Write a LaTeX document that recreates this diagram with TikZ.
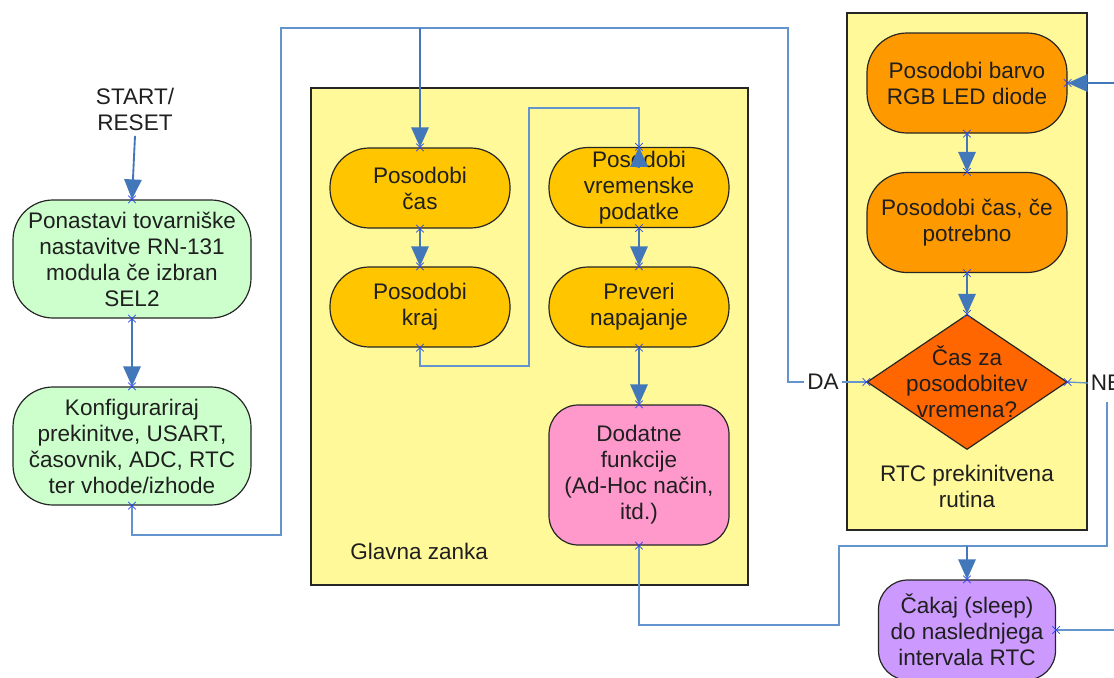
\documentclass[tikz,border=0pt]{standalone}
\usepackage{fontspec}
\setmainfont{Liberation Sans}
\usetikzlibrary{arrows.meta,shapes.geometric,shapes.misc}
\definecolor{lineblue}{RGB}{66,120,185}
\definecolor{lineblue2}{RGB}{100,148,205}
\definecolor{panelyellow}{RGB}{255,249,153}
\definecolor{greenfill}{RGB}{204,255,204}
\definecolor{orangeA}{RGB}{255,198,0}
\definecolor{orangeB}{RGB}{255,153,0}
\definecolor{diafill}{RGB}{255,102,0}
\definecolor{pinkfill}{RGB}{255,153,204}
\definecolor{purplefill}{RGB}{204,153,255}
\definecolor{xblue}{RGB}{40,70,240}
\begin{document}
\begin{tikzpicture}[x=0.75pt,y=-0.75pt,
  every node/.style={font=\fontsize{16.9}{19.5}\selectfont, text=black!88, inner sep=0pt, align=center},
  panel/.style={draw=black!85, line width=1.1pt, fill=panelyellow, rectangle},
  shapebox/.style={draw=black!85, line width=0.9pt, rectangle},
  gbox/.style={shapebox, fill=greenfill, minimum width=178.5pt, minimum height=88.5pt, rounded corners=30pt},
  obox/.style={shapebox, fill=orangeA, minimum width=135pt, minimum height=60pt, rounded corners=29.5pt},
  pbox/.style={shapebox, fill=pinkfill, minimum width=135pt, minimum height=105pt, rounded corners=22pt},
  rbox/.style={shapebox, fill=orangeB, minimum width=150pt, minimum height=75pt, rounded corners=30pt},
  vbox/.style={shapebox, fill=purplefill, minimum width=132.75pt, minimum height=75pt, rounded corners=22pt},
  dia/.style={draw=black!85, line width=0.9pt, fill=diafill, shape=diamond, minimum width=150pt, minimum height=101.25pt},
  ln/.style={draw=lineblue2, line width=1pt},
  arr/.style={draw=lineblue, line width=1.4pt, -{Triangle[length=15pt,width=13pt]}},
  xm/.style={shape=cross out, draw=xblue, line width=0.6pt, minimum size=5pt, inner sep=0pt}]
\useasboundingbox (0,0) rectangle (1114,678);
\clip (0,0) rectangle (1114,678);

% panels
\node[panel, minimum width=327.75pt, minimum height=372.75pt] (main) at (529.5,336.5) {};
\node[panel, minimum width=180pt, minimum height=387.75pt] (rtc) at (967,271.5) {};

% left column
\node (start) at (135,109) {START/\\RESET};
\node[gbox] (g1) at (132,259) {Ponastavi tovarniške\\nastavitve RN-131\\modula če izbran\\SEL2};
\node[gbox] (g2) at (132,446) {Konfigurariraj\\prekinitve, USART,\\časovnik, ADC, RTC\\ter vhode/izhode};

% main loop
\node[obox] (cas) at (420,188) {Posodobi\\čas};
\node[obox] (kraj) at (420,307) {Posodobi\\kraj};
\node[obox] (vrem) at (639,187.5) {Posodobi\\vremenske\\podatke};
\node[obox] (prev) at (639,307) {Preveri\\napajanje};
\node[pbox] (dod) at (639,475) {Dodatne\\funkcije\\(Ad-Hoc način,\\itd.)};
\node[anchor=west] (gz) at (350,551) {Glavna zanka};

% RTC routine
\node[rbox] (barvo) at (967,83) {Posodobi barvo\\RGB LED diode};
\node[rbox] (casce) at (967,222.5) {Posodobi čas, če\\potrebno};
\node[dia] (dia) at (967,382) {};
\node (diat) at (967,382) {Čas za\\posodobitev\\vremena?};
\node (rtct) at (967,486) {RTC prekinitvena\\rutina};
\node[vbox] (cak) at (967,630) {Čakaj (sleep)\\do naslednjega\\intervala RTC};
\node[inner sep=2pt] (da) at (823,382) {DA};
\node[anchor=west, inner sep=2pt] (ne) at (1088,383) {NE};

% bend coordinates
\coordinate (j1) at (281,535);
\coordinate (j2) at (281,28);
\coordinate (top) at (420,28);
\coordinate (j3) at (788,28);
\coordinate (j4) at (788,382);
\coordinate (k1) at (529,366);
\coordinate (k2) at (529,108);
\coordinate (d1) at (839,625);
\coordinate (d2) at (839,546);
\coordinate (jc) at (967,546);
\coordinate (n1) at (1107,402);
\coordinate (n2) at (1107,546);
\coordinate (edgeT) at (1114,83);
\coordinate (edgeB) at (1114,630);

% connectors
\draw[arr] ([yshift=-4pt]start.south) -- (g1.north);
\draw[arr] (g1.south) -- (g2.north);
\draw[ln] (g2.south) |- (j1) -- (j2) -- (top);
\draw[ln] (dia.west) -- (da.east);
\draw[ln] (da.west) -- (j4) -- (j3) -- (top);
\draw[arr] (top) -- (cas.north);
\draw[arr] (cas.south) -- (kraj.north);
\draw[ln] (kraj.south) |- (k1) -- (k2) -| ([yshift=-14pt]vrem.north);
\draw[arr] ([yshift=-16pt]vrem.north) -- (vrem.north);
\draw[arr] (vrem.south) -- (prev.north);
\draw[arr] (prev.south) -- (dod.north);
\draw[ln] (dod.south) |- (d1) -- (d2) -- (jc);
\draw[ln] (dia.east) -- (ne.west);
\draw[ln] (n1) -- (n2) -- (jc);
\draw[arr] (jc) -- (cak.north);
\draw[arr] (barvo.south) -- (casce.north);
\draw[arr] (casce.south) -- (dia.north);
\draw[arr] (edgeT) -- (barvo.east);
\draw[ln] (edgeB) -- (cak.east);

% connection marks
\foreach \n/\a [count=\i] in {g1/north,g1/south,g2/north,g2/south,cas/north,cas/south,kraj/north,kraj/south,vrem/north,vrem/south,prev/north,prev/south,dod/north,dod/south,barvo/east,barvo/south,casce/north,casce/south,dia/north,dia/west,dia/east,cak/north,cak/east}
  \node[xm] (xm\i) at (\n.\a) {};
\end{tikzpicture}
\end{document}
